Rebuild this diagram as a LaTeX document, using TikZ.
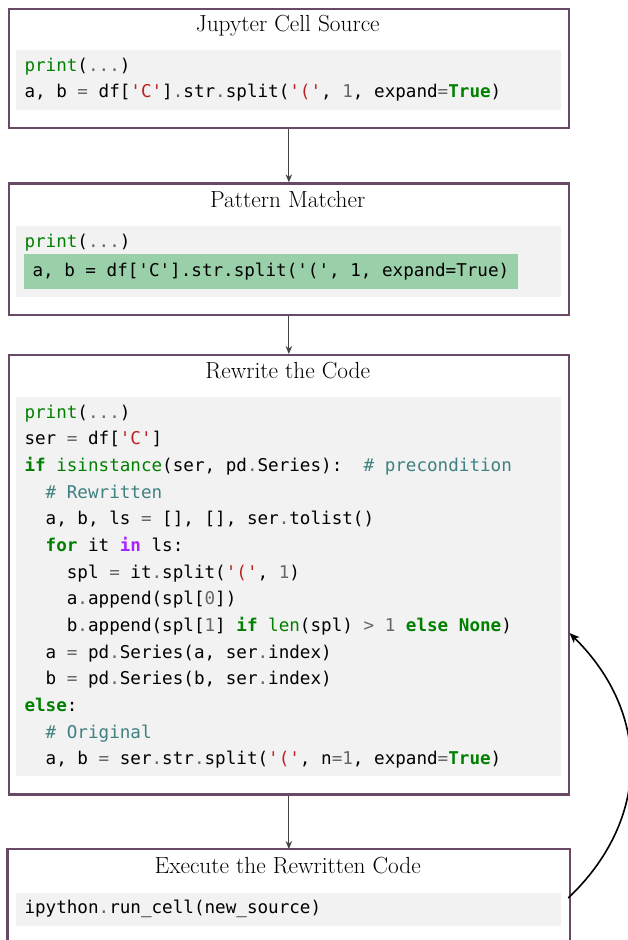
\documentclass[tikz,border=0pt]{standalone}
\usepackage{fontspec}
\setmonofont{DejaVu Sans Mono}
\usetikzlibrary{arrows.meta}
\definecolor{kwgreen}{HTML}{008000}
\definecolor{strred}{HTML}{BA2121}
\definecolor{opgray}{HTML}{666666}
\definecolor{cmteal}{HTML}{408080}
\definecolor{kwpurple}{HTML}{AA22FF}
\definecolor{boxline}{HTML}{694A66}
\definecolor{codegray}{HTML}{F2F2F2}
\definecolor{hlgreen}{HTML}{99CFA9}
\definecolor{flowgray}{HTML}{444444}
\newcommand\cKw[1]{\textcolor{kwgreen}{\bfseries #1}}
\newcommand\cBi[1]{\textcolor{kwgreen}{#1}}
\newcommand\cSt[1]{\textcolor{strred}{#1}}
\newcommand\cOp[1]{\textcolor{opgray}{#1}}
\newcommand\cCm[1]{\textcolor{cmteal}{#1}}
\newcommand\cKp[1]{\textcolor{kwpurple}{\bfseries #1}}
\newcommand\cInd{\hphantom{xx}}
\begin{document}
\begin{tikzpicture}[x=1pt,y=-1pt,
  boxst/.style={draw=boxline, line width=2.2pt, fill=white, inner sep=0pt, minimum width=560.5pt, anchor=north west},
  codebg/.style={fill=codegray, inner sep=0pt, minimum width=544.8pt, anchor=north west},
  hl/.style={fill=hlgreen, inner sep=0pt, anchor=north west},
  title/.style={anchor=base, inner sep=0pt, font=\fontsize{23.3}{28}\selectfont},
  code/.style={anchor=base west, inner sep=0pt, font=\ttfamily\fontsize{17.6}{22}\selectfont},
  flow/.style={draw=flowgray, line width=1pt, -{Stealth[length=8pt,width=6.5pt]}},
  loopback/.style={draw=black, line width=1.6pt, -{Stealth[length=10pt,width=8pt,inset=2.5pt]}}
]
\useasboundingbox (0,0) rectangle (627,940);

% Box 1
\node[boxst, minimum height=119.5pt] (b1) at (7.5,7.5) {};
\node[title] (t1) at (287.75,31.8) {Jupyter Cell Source};
\node[codebg, minimum height=60.1pt] (g1) at (15.5,49.5) {};
\node[code] (l1a) at (24.3,71.5) {\cBi{print}(\cOp{...})};
\node[code] (l1b) at (24.3,97.2) {a, b \cOp{=} df[\cSt{'C'}]\cOp{.}str\cOp{.}split(\cSt{'('}, \cOp{1}, expand\cOp{=}\cKw{True})};

% Box 2
\node[boxst, minimum height=131.4pt] (b2) at (7.5,182.3) {};
\node[title] (t2) at (287.75,207) {Pattern Matcher};
\node[codebg, minimum height=71pt] (g2) at (15.5,225.7) {};
\node[hl, minimum width=494.5pt, minimum height=34.7pt] (h2) at (23.5,254) {};
\node[code] (l2a) at (24.3,247.8) {\cBi{print}(\cOp{...})};
\node[code] (l2b) at (32.3,276.8) {a, b = df['C'].str.split('(', 1, expand=True)};

% Box 3
\node[boxst, minimum height=439.3pt] (b3) at (7.5,354) {};
\node[title] (t3) at (287.75,378.7) {Rewrite the Code};
\node[codebg, minimum height=379pt] (g3) at (15.5,396.7) {};
\node[code] (l3a) at (24.3,418.2) {\cBi{print}(\cOp{...})};
\node[code] (l3b) at (24.3,444.87) {ser \cOp{=} df[\cSt{'C'}]};
\node[code] (l3c) at (24.3,471.54) {\cKw{if} \cBi{isinstance}(ser, pd\cOp{.}Series):\hphantom{x} \cCm{\# precondition}};
\node[code] (l3d) at (24.3,498.21) {\cInd\cCm{\# Rewritten}};
\node[code] (l3e) at (24.3,524.88) {\cInd a, b, ls \cOp{=} [], [], ser\cOp{.}tolist()};
\node[code] (l3f) at (24.3,551.55) {\cInd\cKw{for} it \cKp{in} ls:};
\node[code] (l3g) at (24.3,578.22) {\cInd\cInd spl \cOp{=} it\cOp{.}split(\cSt{'('}, \cOp{1})};
\node[code] (l3h) at (24.3,604.89) {\cInd\cInd a\cOp{.}append(spl[\cOp{0}])};
\node[code] (l3i) at (24.3,631.56) {\cInd\cInd b\cOp{.}append(spl[\cOp{1}] \cKw{if} \cBi{len}(spl) \cOp{>} \cOp{1} \cKw{else} \cKw{None})};
\node[code] (l3j) at (24.3,658.23) {\cInd a \cOp{=} pd\cOp{.}Series(a, ser\cOp{.}index)};
\node[code] (l3k) at (24.3,684.9) {\cInd b \cOp{=} pd\cOp{.}Series(b, ser\cOp{.}index)};
\node[code] (l3l) at (24.3,711.57) {\cKw{else}:};
\node[code] (l3m) at (24.3,738.24) {\cInd\cCm{\# Original}};
\node[code] (l3n) at (24.3,764.91) {\cInd a, b \cOp{=} ser\cOp{.}str\cOp{.}split(\cSt{'('}, n\cOp{=}\cOp{1}, expand\cOp{=}\cKw{True})};

% Box 4 (runs off the bottom of the page)
\node[boxst, draw=none, fill=none, minimum height=96pt] (b4) at (7.5,849) {};
\draw[draw=boxline, line width=2.2pt] (b4.south west) -- (b4.north west) -- (b4.north east) -- (b4.south east);
\node[title] (t4) at (287.75,873) {Execute the Rewritten Code};
\node[codebg, minimum height=33.4pt] (g4) at (15.5,892.3) {};
\node[code] (l4a) at (24.3,913.8) {ipython\cOp{.}run\_cell(new\_source)};

% connectors
\draw[flow] (b1.south) -- (b2.north);
\draw[flow] (b2.south) -- (b3.north);
\draw[flow] (b3.south) -- (b4.north);
\coordinate (cs) at (568.25,898);
\coordinate (ce) at (569.5,633);
\draw[loopback] (cs) .. controls +(82,-78) and +(82,81) .. (ce);
\end{tikzpicture}
\end{document}
